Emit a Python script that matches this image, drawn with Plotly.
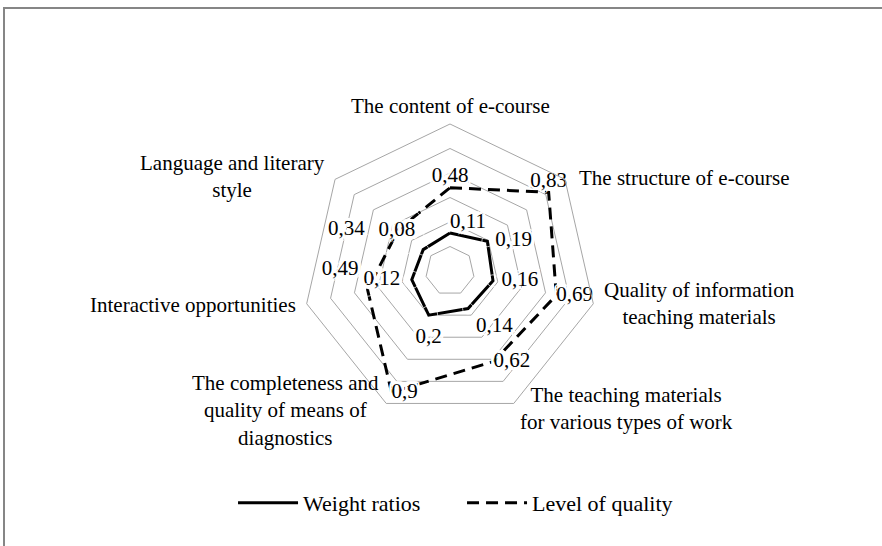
import plotly.graph_objects as go

categories = ["The content of e-course", "The structure of e-course",
              "Quality of information<br>teaching materials",
              "The teaching materials<br>for various types of work",
              "The completeness and<br>quality of means of<br>diagnostics",
              "Interactive opportunities", "Language and literary<br>style"]
weight_ratios = [0.11, 0.19, 0.16, 0.14, 0.2, 0.12, 0.08]
level_quality = [0.48, 0.83, 0.69, 0.62, 0.9, 0.49, 0.34]

# where each data label sits relative to its point, and how far it is pushed
# (the push comes from an invisible marker of that size)
weight_pos = ["top right", "middle right", "middle right", "bottom right",
              "bottom center", "middle left", "top left"]
weight_gap = [0, 11, 12, 11, 18, 17, 11]
quality_pos = ["top center", "top center", "middle right", "middle right",
               "middle right", "top left", "middle left"]
quality_gap = [0, 0, 0, 0, 0, 13, 52]

# category label placement (paper coords) - same order as categories
cat_x = [0.503, 0.932, 1.350, 1.102, -0.058, -0.017, -0.241]
cat_y = [1.062, 0.816, 0.388, 0.031, 0.027, 0.384, 0.821]
cat_anchor = ["center", "left", "center", "center", "center", "right", "center"]

FONT = "Liberation Serif, Times New Roman, serif"
GRID = "#a6a6a6"
halo = ", ".join(f"{dx}px {dy}px 0 white" for dx in (-3, 0, 3) for dy in (-3, 0, 3)
                 if dx or dy)


def closed(vals):
    return list(vals) + [vals[0]]


def labels(vals):
    return [f"{v:g}".replace(".", ",") for v in vals]


fig = go.Figure()
fig.add_trace(go.Scatterpolar(
    r=closed(weight_ratios), theta=closed(categories), name="Weight ratios",
    mode="lines", line=dict(color="black", width=3), hoverinfo="skip"))
fig.add_trace(go.Scatterpolar(
    r=closed(level_quality), theta=closed(categories), name="Level of quality",
    mode="lines", line=dict(color="black", width=3, dash="12px,7px"),
    hoverinfo="skip"))

for vals, pos, gap in [(weight_ratios, weight_pos, weight_gap),
                       (level_quality, quality_pos, quality_gap)]:
    fig.add_trace(go.Scatterpolar(
        r=vals, theta=categories, mode="markers+text", text=labels(vals),
        textposition=pos, showlegend=False, hoverinfo="skip",
        marker=dict(size=gap, color="rgba(0,0,0,0)"),
        textfont=dict(family=FONT, size=21, color="black", shadow=halo)))

for name, x, y, anc in zip(categories, cat_x, cat_y, cat_anchor):
    fig.add_annotation(text=name, x=x, y=y, xref="paper", yref="paper",
                       xanchor=anc, yanchor="middle", align="center",
                       showarrow=False, font=dict(family=FONT, size=21, color="black"))

fig.update_layout(
    width=882, height=546,
    margin=dict(l=303, r=285, t=124, b=128),
    paper_bgcolor="white", plot_bgcolor="white",
    font=dict(family=FONT, size=21, color="black"),
    polar=dict(
        bgcolor="white",
        gridshape="linear",
        hole=1 / 6,
        domain=dict(x=[0, 1], y=[0, 1]),
        radialaxis=dict(range=[0, 1.0], tick0=0, dtick=0.2,
                        showticklabels=False, ticks="", showline=False,
                        gridcolor=GRID, gridwidth=1),
        angularaxis=dict(rotation=90, direction="clockwise",
                         showgrid=False, ticks="", showline=True,
                         linecolor=GRID, linewidth=1, showticklabels=False),
    ),
    legend=dict(orientation="h", x=-0.238, y=-0.289, xanchor="left", yanchor="middle",
                font=dict(family=FONT, size=22, color="black"),
                itemwidth=60, entrywidth=154, tracegroupgap=0),
    shapes=[dict(type="rect", xref="paper", yref="paper",
                 x0=(4 - 303) / 294, x1=(900 - 303) / 294,
                 y0=(418 - 560) / 294, y1=(418 - 8) / 294,
                 line=dict(color="#868686", width=2), fillcolor="rgba(0,0,0,0)",
                 layer="below")],
)

fig.write_html("out.html", config={"displayModeBar": False},
               post_script="document.body.style.margin='0px';")
